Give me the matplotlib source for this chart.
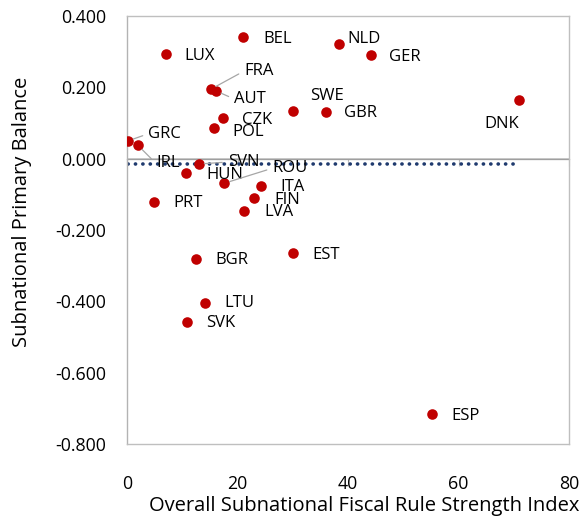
import numpy as np
import matplotlib
matplotlib.use("Agg")
import matplotlib.pyplot as plt

plt.rcParams['font.family'] = ['Open Sans', 'DejaVu Sans']

countries = ["BEL", "LUX", "NLD", "GER", "FRA", "AUT", "SWE", "GBR", "DNK", "CZK",
             "POL", "GRC", "IRL", "SVN", "HUN", "ROU", "ITA", "FIN", "LVA", "PRT",
             "BGR", "EST", "LTU", "SVK", "ESP"]
rule_index = [21.0, 7.1, 38.4, 44.2, 15.2, 16.1, 30.1, 36.1, 71.0, 17.4,
              15.7, 0.2, 2.0, 13.0, 10.7, 17.6, 24.3, 23.0, 21.2, 4.8,
              12.5, 30.0, 14.1, 10.9, 55.2]
primary_balance = [0.341, 0.293, 0.322, 0.291, 0.195, 0.190, 0.134, 0.131, 0.164, 0.113,
                   0.085, 0.050, 0.037, -0.015, -0.041, -0.069, -0.078, -0.111, -0.146, -0.122,
                   -0.282, -0.265, -0.405, -0.458, -0.716]
x_ticks = [0, 20, 40, 60, 80]
y_ticks = [-0.8, -0.6, -0.4, -0.2, 0.0, 0.2, 0.4]

# label offsets in pixels (dx, dy) and whether a leader line is drawn
label_offsets = {
    "BEL": (20, -2), "LUX": (18, -2), "NLD": (8, 5), "GER": (18, -2),
    "FRA": (33, 18), "AUT": (18, -8), "SWE": (17, 15), "GBR": (18, -1),
    "DNK": (-35, -24), "CZK": (19, -2), "POL": (19, -4), "GRC": (20, 7),
    "IRL": (18, -18), "SVN": (29, 2), "HUN": (20, -2), "ROU": (48, 15),
    "ITA": (19, -1), "FIN": (20, -2), "LVA": (20, -1), "PRT": (20, -1),
    "BGR": (19, -1), "EST": (20, -2), "LTU": (19, 0), "SVK": (19, -1),
    "ESP": (19, -2),
}
leaders = {"FRA", "AUT", "GRC", "IRL", "SVN", "ROU"}

fig = plt.figure(figsize=(5.85, 5.23), dpi=100)
ax = fig.add_axes([127/585, 1-444/523, (569-127)/585, (444-16)/523])

grey = '#bfbfbf'
ax.set_xlim(0, 80)
ax.set_ylim(-0.8, 0.4)
for s in ax.spines.values():
    s.set_color(grey)
    s.set_linewidth(1.0)
ax.spines['left'].set_color('#b3b3b3')
ax.set_xticks(x_ticks)
ax.set_yticks(y_ticks)
ax.set_yticklabels([f"{v:.3f}" for v in y_ticks])
ax.tick_params(axis='both', length=0, labelsize=12.8, colors='#000000')
ax.tick_params(axis='y', pad=15)
ax.tick_params(axis='x', pad=22)

# horizontal axis line at zero with upward ticks
ax.axhline(0, color=grey, lw=1.2, zorder=1)
sec = ax.secondary_xaxis((0 - (-0.8)) / 1.2)
sec.set_xticks(x_ticks)
sec.tick_params(direction='in', length=5, color=grey, labelbottom=False, labeltop=False)
sec.spines['bottom'].set_visible(False)
sec.xaxis.set_ticklabels([])

# trend (mean) line
mean_y = float(np.mean(primary_balance))
ax.plot([min(rule_index), max(rule_index)], [mean_y, mean_y], color='#1f3a6e', lw=2.6,
        linestyle=(0, (0.05, 2.0)), dash_capstyle='round', zorder=2)

ax.scatter(rule_index, primary_balance, s=58, color='#c00000', zorder=3, linewidths=0)

for c, xv, yv in zip(countries, rule_index, primary_balance):
    dx, dy = label_offsets[c]
    kw = {}
    if c in leaders:
        kw['arrowprops'] = dict(arrowstyle='-', color='#a6a6a6', lw=0.9,
                                shrinkA=2, shrinkB=4, relpos=(0, 0.5))
    ax.annotate(c, (xv, yv), xytext=(dx, dy), textcoords='offset pixels',
                ha='left', va='center', fontsize=12, color='#000000', zorder=4, **kw)

ax.set_xlabel("Overall Subnational Fiscal Rule Strength Index", fontsize=14.5)
ax.set_ylabel("Subnational Primary Balance", fontsize=14.5)
ax.xaxis.set_label_coords((364 - 127) / 442, -(496 - 444) / 428)
ax.yaxis.set_label_coords(-(127 - 32) / 442, (444 - 212) / 428)

fig.savefig("out.png", dpi=100)
